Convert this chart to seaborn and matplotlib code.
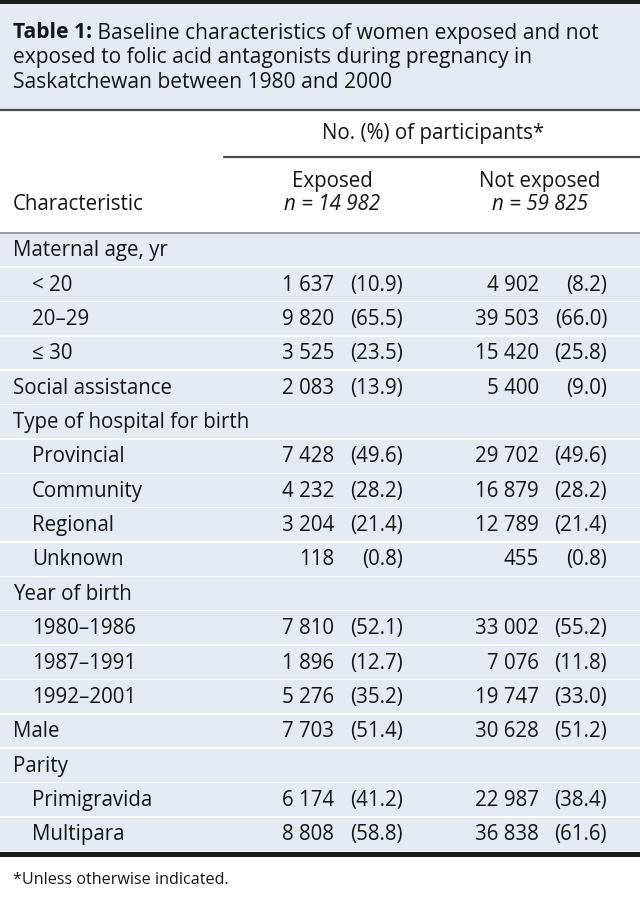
import matplotlib
matplotlib.use("Agg")
import matplotlib.pyplot as plt
import seaborn as sns

# data of the table
labels = ["Maternal age, yr", "< 20", "20–29", "≤ 30", "Social assistance",
          "Type of hospital for birth", "Provincial", "Community", "Regional", "Unknown",
          "Year of birth", "1980–1986", "1987–1991", "1992–2001", "Male",
          "Parity", "Primigravida", "Multipara"]
indent = [0, 1, 1, 1, 0, 0, 1, 1, 1, 1, 0, 1, 1, 1, 0, 0, 1, 1]
exp_n = [None, 1637, 9820, 3525, 2083, None, 7428, 4232, 3204, 118,
         None, 7810, 1896, 5276, 7703, None, 6174, 8808]
exp_pct = [None, 10.9, 65.5, 23.5, 13.9, None, 49.6, 28.2, 21.4, 0.8,
           None, 52.1, 12.7, 35.2, 51.4, None, 41.2, 58.8]
notexp_n = [None, 4902, 39503, 15420, 5400, None, 29702, 16879, 12789, 455,
            None, 33002, 7076, 19747, 30628, None, 22987, 36838]
notexp_pct = [None, 8.2, 66.0, 25.8, 9.0, None, 49.6, 28.2, 21.4, 0.8,
              None, 55.2, 11.8, 33.0, 51.2, None, 38.4, 61.6]

title_bold = "Table 1:"
title_lines = [" Baseline characteristics of women exposed and not",
               "exposed to folic acid antagonists during pregnancy in",
               "Saskatchewan between 1980 and 2000"]
footnote = "*Unless otherwise indicated."

sns.set_theme(style="white")
plt.rcParams["font.family"] = ["Open Sans", "DejaVu Sans"]

BG = "#e4e9f2"
FS = 14.8
TFS = 15.1
TXT = "#151515"


def fmt_n(v):
    return f"{v:,}".replace(",", " ")


fig = plt.figure(figsize=(6.4, 9), dpi=100)
ax = fig.add_axes([0, 0, 1, 1])
ax.set_xlim(0, 640)
ax.set_ylim(900, 0)
ax.axis("off")

# title box
ax.axhspan(0, 4, color="#1c1c1c", lw=0)
ax.axhspan(4, 109, color=BG, lw=0)
ax.axhline(110, color="#4a4a4a", lw=1.6)
tb = ax.text(13, 33, title_bold, fontsize=TFS, fontweight="bold", color=TXT, va="center")
ax.annotate(title_lines[0], xy=(1, 0.5), xycoords=tb, va="center", ha="left",
            fontsize=TFS, color=TXT)
for k, line in enumerate(title_lines[1:]):
    ax.text(13, 58 + 24.5 * k, line, fontsize=TFS, color=TXT, va="center")

# header
ax.text(433, 134, "No. (%) of participants*", fontsize=FS, color=TXT, ha="center", va="center")
ax.plot([224, 640], [157, 157], color="#4a4a4a", lw=1.6)
ax.text(13, 205, "Characteristic", fontsize=FS, color=TXT, va="center")
ax.text(332, 181, "Exposed", fontsize=FS, color=TXT, ha="center", va="center")
ax.text(332, 205, "n = 14 982", fontsize=FS, color=TXT, ha="center", va="center", style="italic")
ax.text(540, 181, "Not exposed", fontsize=FS, color=TXT, ha="center", va="center")
ax.text(540, 205, "n = 59 825", fontsize=FS, color=TXT, ha="center", va="center", style="italic")
ax.axhline(232.5, color="#8a8a8a", lw=1.2)

# body rows
top, bottom = 233.5, 852
h = (bottom - top) / len(labels)
for i, lab in enumerate(labels):
    y0 = top + i * h
    ax.axhspan(y0, y0 + h - 1.5, color=BG, lw=0)
    yc = y0 + h / 2
    ax.text(13 + 19 * indent[i], yc, lab, fontsize=FS, color=TXT, va="center")
    if exp_n[i] is not None:
        ax.text(334, yc, fmt_n(exp_n[i]), fontsize=FS, color=TXT, ha="right", va="center")
        ax.text(403, yc, f"({exp_pct[i]:.1f})", fontsize=FS, color=TXT, ha="right", va="center")
        ax.text(539, yc, fmt_n(notexp_n[i]), fontsize=FS, color=TXT, ha="right", va="center")
        ax.text(607, yc, f"({notexp_pct[i]:.1f})", fontsize=FS, color=TXT, ha="right", va="center")

ax.axhspan(852, 857, color="#1c1c1c", lw=0)
ax.text(13, 880, footnote, fontsize=11.6, color=TXT, va="center")

fig.savefig("out.png", dpi=100)
